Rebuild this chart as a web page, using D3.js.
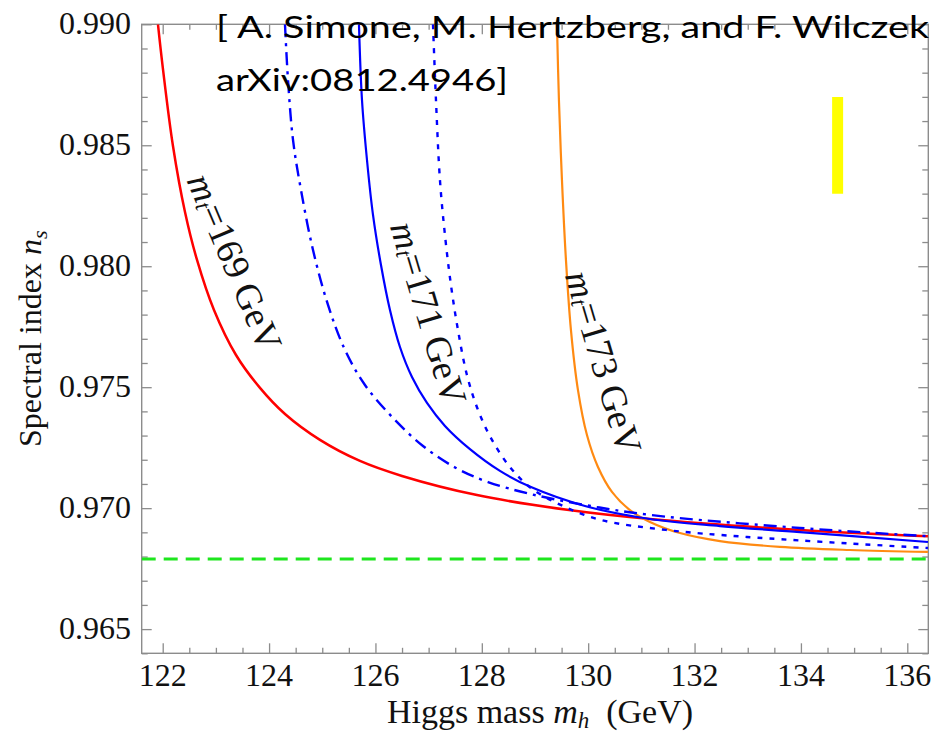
<!DOCTYPE html>
<html>
<head>
<meta charset="utf-8">
<script src="https://cdn.jsdelivr.net/npm/d3@7"></script>
<style>
  html, body { margin: 0; padding: 0; background: #fff; }
  svg { display: block; }
</style>
</head>
<body>
<svg id="chart" width="944" height="735"></svg>
<script>
// ---------------- data ----------------
const xMajorTicks = [122, 124, 126, 128, 130, 132, 134, 136];
const xTickLabels = ["122", "124", "126", "128", "130", "132", "134", "136"];
const yMajorTicks = [0.965, 0.970, 0.975, 0.980, 0.985, 0.990];
const yTickLabels = ["0.965", "0.970", "0.975", "0.980", "0.985", "0.990"];

// m_t = 169 GeV (red, solid)
const mh169 = [121.911, 122.005, 122.193, 122.419, 122.645, 122.964, 123.378, 123.829, 124.299, 124.957, 125.709, 126.499, 127.909, 129.639, 131.161, 133.981, 136.388];
const ns169 = [0.99000, 0.98815, 0.98497, 0.98224, 0.98026, 0.97819, 0.97633, 0.97497, 0.97389, 0.97282, 0.97195, 0.97133, 0.97054, 0.96992, 0.96955, 0.96910, 0.96884];

// m_t = 171 GeV (blue, solid)
const mh171 = [125.690, 125.747, 125.841, 125.954, 126.104, 126.273, 126.461, 126.687, 126.969, 127.307, 127.777, 128.341, 128.924, 129.939, 131.161, 132.477, 133.981, 136.388];
const ns171 = [0.99000, 0.98687, 0.98439, 0.98212, 0.98005, 0.97819, 0.97666, 0.97542, 0.97435, 0.97340, 0.97244, 0.97154, 0.97087, 0.97009, 0.96955, 0.96926, 0.96901, 0.96860];

// blue dash-dot companion curve
const mhDashDot = [124.299, 124.356, 124.450, 124.600, 124.826, 125.108, 125.427, 125.803, 126.330, 126.894, 127.514, 128.116, 128.924, 129.939, 131.161, 133.981, 136.388];
const nsDashDot = [0.99000, 0.98770, 0.98522, 0.98315, 0.98067, 0.97840, 0.97654, 0.97509, 0.97373, 0.97257, 0.97166, 0.97108, 0.97058, 0.97013, 0.96972, 0.96918, 0.96884];

// blue dotted companion curve
const mhDotted = [127.082, 127.138, 127.213, 127.307, 127.420, 127.552, 127.721, 127.928, 128.191, 128.529, 128.924, 129.526, 130.240, 131.462, 132.985, 136.388];
const nsDotted = [0.99000, 0.98687, 0.98356, 0.98129, 0.97922, 0.97736, 0.97550, 0.97406, 0.97282, 0.97170, 0.97083, 0.97009, 0.96951, 0.96910, 0.96881, 0.96835];

// m_t = 173 GeV (orange, solid)
const mh173 = [129.413, 129.450, 129.507, 129.582, 129.676, 129.808, 129.977, 130.184, 130.447, 130.785, 131.161, 131.725, 132.477, 133.605, 134.921, 136.388];
const ns173 = [0.99000, 0.98687, 0.98356, 0.98026, 0.97736, 0.97488, 0.97302, 0.97170, 0.97067, 0.96992, 0.96943, 0.96897, 0.96864, 0.96840, 0.96827, 0.96819];

// horizontal green dashed reference level
const nsReference = 0.9679;
// yellow bar
const barMh = 134.69;
const barNs = [0.983, 0.987];

const curveLabels = ["169", "171", "173"];
const citationLines = ["[ A. Simone, M. Hertzberg, and F. Wilczek", "arXiv:0812.4946]"];

// ---------------- layout ----------------
const L = 141.7, R = 928.3, T = 24.3, B = 653.3;
const svg = d3.select("#chart");

const x = d3.scaleLinear().domain([121.605, 136.395]).range([L, R]);
const y = d3.scaleLinear().domain([0.964, 0.990]).range([B, T]);

const serif = "'Liberation Serif', 'Times New Roman', serif";
const axisColor = "#8c8c8c";

svg.append("defs").append("clipPath").attr("id", "plotClip")
  .append("rect").attr("x", L).attr("y", T).attr("width", R - L).attr("height", B - T);

// ---------------- ticks via d3 axes ----------------
const xMinor = d3.range(121.5, 136.6, 0.5).filter(v => v >= 121.605 && v <= 136.395 && !xMajorTicks.includes(v));
const yMinor = d3.range(0, 27).map(i => +(0.964 + i * 0.001).toFixed(3)).filter(v => !yMajorTicks.some(m => Math.abs(m - v) < 1e-9));

function styleAxis(g) {
  g.select(".domain").remove();
  g.selectAll("line").attr("stroke", axisColor).attr("stroke-width", 1.3);
  g.selectAll("text").remove();
}

svg.append("g").attr("transform", `translate(0,${B})`)
  .call(d3.axisBottom(x).tickValues(xMajorTicks).tickSize(-10).tickFormat("")).call(styleAxis);
svg.append("g").attr("transform", `translate(0,${B})`)
  .call(d3.axisBottom(x).tickValues(xMinor).tickSize(-5.5).tickFormat("")).call(styleAxis);
svg.append("g").attr("transform", `translate(0,${T})`)
  .call(d3.axisTop(x).tickValues(xMajorTicks).tickSize(-10).tickFormat("")).call(styleAxis);
svg.append("g").attr("transform", `translate(0,${T})`)
  .call(d3.axisTop(x).tickValues(xMinor).tickSize(-5.5).tickFormat("")).call(styleAxis);
svg.append("g").attr("transform", `translate(${L},0)`)
  .call(d3.axisLeft(y).tickValues(yMajorTicks).tickSize(-10).tickFormat("")).call(styleAxis);
svg.append("g").attr("transform", `translate(${L},0)`)
  .call(d3.axisLeft(y).tickValues(yMinor).tickSize(-6).tickFormat("")).call(styleAxis);
svg.append("g").attr("transform", `translate(${R},0)`)
  .call(d3.axisRight(y).tickValues(yMajorTicks).tickSize(-10).tickFormat("")).call(styleAxis);
svg.append("g").attr("transform", `translate(${R},0)`)
  .call(d3.axisRight(y).tickValues(yMinor).tickSize(-6).tickFormat("")).call(styleAxis);

svg.append("rect").attr("x", L).attr("y", T).attr("width", R - L).attr("height", B - T)
  .attr("fill", "none").attr("stroke", axisColor).attr("stroke-width", 1.4);

// tick labels
svg.append("g").selectAll("text").data(xMajorTicks).join("text")
  .attr("x", d => x(d)).attr("y", 686)
  .attr("text-anchor", "middle")
  .attr("font-family", serif).attr("font-size", 32).attr("fill", "#111")
  .text((d, i) => xTickLabels[i]);

svg.append("g").selectAll("text").data(yMajorTicks).join("text")
  .attr("x", 131).attr("y", d => y(d) + 10)
  .attr("text-anchor", "end")
  .attr("font-family", serif).attr("font-size", 32).attr("fill", "#111")
  .text((d, i) => yTickLabels[i]);

// axis titles
const xt = svg.append("text").attr("x", 540).attr("y", 723)
  .attr("text-anchor", "middle").attr("font-family", serif).attr("font-size", 34).attr("fill", "#111");
xt.append("tspan").text("Higgs mass ");
xt.append("tspan").attr("font-style", "italic").text("m");
xt.append("tspan").attr("font-size", 23).attr("font-style", "italic").attr("dy", 5).text("h");
xt.append("tspan").attr("dy", -5).text("\u00a0\u00a0(GeV)");

const yt = svg.append("text")
  .attr("transform", `translate(41,${(T + B) / 2}) rotate(-90)`)
  .attr("text-anchor", "middle").attr("font-family", serif).attr("font-size", 32).attr("fill", "#111");
yt.append("tspan").text("Spectral index ");
yt.append("tspan").attr("font-style", "italic").text("n");
yt.append("tspan").attr("font-size", 22).attr("font-style", "italic").attr("dy", 6).text("s");

// ---------------- marks ----------------
const plot = svg.append("g").attr("clip-path", "url(#plotClip)");

plot.append("line")
  .attr("x1", x(121.605)).attr("x2", x(136.395))
  .attr("y1", y(nsReference)).attr("y2", y(nsReference))
  .attr("stroke", "#1ee61e").attr("stroke-width", 3).attr("stroke-dasharray", "14,8");

const line = d3.line().x(d => x(d[0])).y(d => y(d[1])).curve(d3.curveCatmullRom.alpha(0.5));
const zip = (a, b) => a.map((v, i) => [v, b[i]]);

const series = [
  { xs: mh169, ys: ns169, color: "#ff0000", w: 2.5, dash: null },
  { xs: mh173, ys: ns173, color: "#ff8a12", w: 2.2, dash: null },
  { xs: mhDotted, ys: nsDotted, color: "#0000ff", w: 2.4, dash: "5,7" },
  { xs: mh171, ys: ns171, color: "#0000ff", w: 2.2, dash: null },
  { xs: mhDashDot, ys: nsDashDot, color: "#0000ff", w: 2.4, dash: "13,6,3,6" }
];
series.forEach(s => {
  plot.append("path").datum(zip(s.xs, s.ys))
    .attr("d", line).attr("fill", "none")
    .attr("stroke", s.color).attr("stroke-width", s.w)
    .attr("stroke-dasharray", s.dash);
});

plot.append("line")
  .attr("x1", x(barMh)).attr("x2", x(barMh))
  .attr("y1", y(barNs[0])).attr("y2", y(barNs[1]))
  .attr("stroke", "#ffff00").attr("stroke-width", 11);

// curve labels
const labelPos = [
  { cx: 235, cy: 262, a: 67 },
  { cx: 429, cy: 313, a: 73.5 },
  { cx: 604, cy: 362, a: 73.5 }
];
curveLabels.forEach((lab, i) => {
  const p = labelPos[i];
  const t = svg.append("text")
    .attr("transform", `translate(${p.cx},${p.cy}) rotate(${p.a})`)
    .attr("text-anchor", "middle").attr("dominant-baseline", "central")
    .attr("font-family", serif).attr("font-size", 37).attr("fill", "#111");
  t.append("tspan").attr("font-style", "italic").text("m");
  t.append("tspan").attr("font-size", 23).attr("font-style", "italic").attr("dy", 7).text("t");
  t.append("tspan").attr("dy", -7).text("=" + lab + " GeV");
});

// citation text
svg.append("text").attr("x", 216).attr("y", 37.5)
  .attr("font-family", "Lato, 'Open Sans', sans-serif").attr("font-size", 31).attr("fill", "#000")
  .attr("textLength", 713).attr("lengthAdjust", "spacingAndGlyphs")
  .text(citationLines[0]);
svg.append("text").attr("x", 216).attr("y", 91)
  .attr("font-family", "Lato, 'Open Sans', sans-serif").attr("font-size", 31).attr("fill", "#000")
  .attr("textLength", 292).attr("lengthAdjust", "spacingAndGlyphs")
  .text(citationLines[1]);
</script>
</body>
</html>
